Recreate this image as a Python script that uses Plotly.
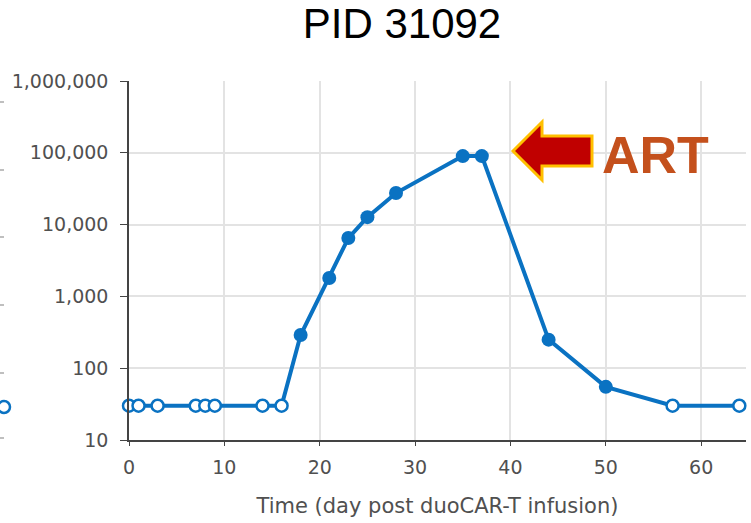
import plotly.graph_objects as go

# Data
days_open1 = [0, 1, 3, 7, 8, 9, 14, 16]
vals_open1 = [30, 30, 30, 30, 30, 30, 30, 30]
days_filled = [18, 21, 23, 25, 28, 35, 37, 44, 50]
vals_filled = [290, 1800, 6500, 12700, 27500, 90000, 90000, 250, 55]
days_open2 = [57, 64]
vals_open2 = [30, 30]

all_days = days_open1 + days_filled + days_open2
all_vals = vals_open1 + vals_filled + vals_open2

y_tickvals = [10, 100, 1000, 10000, 100000, 1000000]
y_ticktext = ["10", "100", "1,000", "10,000", "100,000", "1,000,000"]
x_tickvals = [0, 10, 20, 30, 40, 50, 60]

BLUE = "#0A72C2"
TXT = "#505050"
W, H = 751, 523
L, R, T, B = 129, 746, 81, 440


def px(x):
    return (x - L) / (R - L)


def py(y):
    return (B - y) / (B - T)


fig = go.Figure()
fig.add_trace(go.Scatter(x=all_days, y=all_vals, mode="lines",
                         line=dict(color=BLUE, width=4), hoverinfo="skip",
                         showlegend=False))
fig.add_trace(go.Scatter(x=days_filled, y=vals_filled, mode="markers",
                         marker=dict(color=BLUE, size=14, line=dict(color=BLUE, width=0)),
                         showlegend=False, cliponaxis=False))
fig.add_trace(go.Scatter(x=days_open1 + days_open2, y=vals_open1 + vals_open2, mode="markers",
                         marker=dict(color="white", size=12, line=dict(color=BLUE, width=2.5)),
                         showlegend=False, cliponaxis=False))

shapes = []
# Arrow (pixel geometry converted to paper coords)
pts = [(513, 151), (542, 122), (542, 136), (592, 136), (592, 166), (542, 166), (542, 180)]
path = "M " + " L ".join(f"{px(a):.5f},{py(b):.5f}" for a, b in pts) + " Z"
shapes.append(dict(type="path", xref="paper", yref="paper", path=path,
                   fillcolor="#C00000", line=dict(color="#FFC000", width=3), layer="above"))
# partial marker from neighbouring panel at far left
shapes.append(dict(type="circle", xref="paper", yref="paper",
                   x0=px(-2), x1=px(10), y0=py(413), y1=py(401),
                   fillcolor="white", line=dict(color=BLUE, width=2.5)))
for yy in [102, 170, 237, 305, 373, 438]:
    shapes.append(dict(type="line", xref="paper", yref="paper",
                       x0=px(0), x1=px(4), y0=py(yy), y1=py(yy),
                       line=dict(color="#AAAAAA", width=1.5)))

fig.update_layout(
    width=W, height=H,
    margin=dict(l=L, r=W - R, t=T, b=H - B),
    paper_bgcolor="white", plot_bgcolor="white",
    title=dict(text="PID 31092", x=402 / W, xanchor="center", xref="container",
               y=1 - 23 / H, yanchor="middle", yref="container",
               font=dict(family="Liberation Sans, Arial", size=42, color="black")),
    shapes=shapes,
    annotations=[dict(text="<b>ART</b>", xref="paper", yref="paper",
                      x=px(655), y=py(155), xanchor="center", yanchor="middle",
                      showarrow=False,
                      font=dict(family="Liberation Sans, Arial", size=52, color="#C4501C"))],
    font=dict(family="DejaVu Sans", color=TXT),
)
fig.update_xaxes(range=[0, 64.7], tickvals=x_tickvals, showgrid=True,
                 gridcolor="#E3E3E3", gridwidth=1.5, zeroline=False,
                 showline=True, linecolor="#444444", linewidth=1.5,
                 ticks="outside", ticklen=4, tickcolor="#444444",
                 tickfont=dict(family="DejaVu Sans", size=19, color=TXT),
                 ticklabelstandoff=5,
                 title=dict(text="Time (day post duoCAR-T infusion)", standoff=22,
                            font=dict(family="DejaVu Sans", size=21, color=TXT)))
fig.update_yaxes(type="log", range=[1, 6], tickvals=y_tickvals, ticktext=y_ticktext,
                 showgrid=True, gridcolor="#E3E3E3", gridwidth=1.5, zeroline=False,
                 showline=True, linecolor="#444444", linewidth=1.5,
                 ticks="outside", ticklen=7, tickcolor="#444444",
                 ticklabelstandoff=8,
                 tickfont=dict(family="DejaVu Sans", size=19, color=TXT))

fig.write_html("out.html", config={"displayModeBar": False},
               post_script="document.body.style.margin='0';")
